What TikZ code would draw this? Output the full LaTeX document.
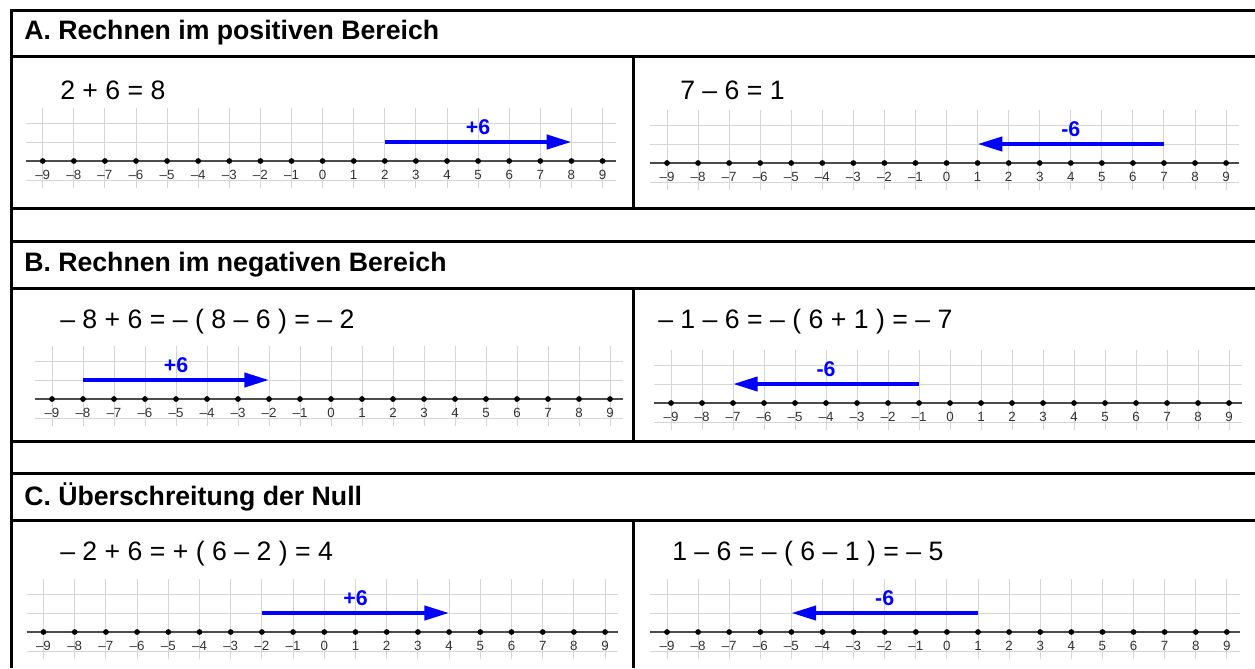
\documentclass[tikz,border=0pt]{standalone}
\usepackage{fontspec}
\setmainfont{Liberation Sans}
\usetikzlibrary{arrows.meta}

% number line: name, x of -9, step, y of axis
\newcommand{\zahlenstrahl}[4]{%
  \foreach \k in {0,...,18}
    \draw[gitter] ({#2+\k*#3},{#4-53}) -- ({#2+\k*#3},{#4+27});
  \foreach \o in {-38,-19,19}
    \draw[gitter] ({#2-17},{#4+\o}) -- ({#2+18*#3+13},{#4+\o});
  \draw[achse] ({#2-17},#4) -- ({#2+18*#3+13},#4);
  \foreach \t [count=\k from 0] in {–9,–8,–7,–6,–5,–4,–3,–2,–1,0,1,2,3,4,5,6,7,8,9} {
    \node[punkt] (#1-\k) at ({#2+\k*#3},#4) {};
    \node[zahl] (#1-t\k) at ({#2+\k*#3},{#4+13.5}) {\t};
    \coordinate (#1-o\k) at ({#2+\k*#3},{#4-19});
  }%
}

\begin{document}
\begin{tikzpicture}[x=0.75pt, y=-0.75pt,
    rahmen/.style={line width=2.25pt, black},
    gitter/.style={line width=0.75pt, black!16},
    achse/.style={line width=1.5pt, black!70},
    punkt/.style={circle, fill=black, inner sep=0pt, minimum size=4.3pt},
    zahl/.style={font=\fontsize{10}{11}\selectfont, inner sep=0pt, text=black!80},
    kopf/.style={anchor=west, font=\fontsize{20}{24}\selectfont\bfseries, inner sep=0pt},
    gleichung/.style={anchor=west, font=\fontsize{20}{24}\selectfont, inner sep=0pt},
    pfeil/.style={-{Triangle[length=18.5pt,width=10.5pt]}, line width=3pt, blue},
    schritt/.style={font=\fontsize{16}{18}\selectfont\bfseries, text=blue, inner sep=0pt, yshift=11pt},
]
\useasboundingbox (0,0) rectangle (1255,668);

% table
\foreach \y in {10,56,208,241,288,441,473,520}
  \draw[rahmen] (11,\y) -- (1255,\y);
\draw[rahmen] (11,9) -- (11,668);
\draw[rahmen] (633,56) -- (633,208);
\draw[rahmen] (633,288) -- (633,441);
\draw[rahmen] (633,520) -- (633,668);

\node[kopf] (kA) at (24,33) {A. Rechnen im positiven Bereich};
\node[kopf] (kB) at (24,264.5) {B. Rechnen im negativen Bereich};
\node[kopf] (kC) at (24,496.5) {C. Überschreitung der Null};

\node[gleichung] (gAL) at (60,90) {2 + 6 = 8};
\node[gleichung] (gAR) at (680,90) {7 – 6 = 1};
\node[gleichung] (gBL) at (60,322) {– 8 + 6 = – ( 8 – 6 ) = – 2};
\node[gleichung] (gBR) at (658,322) {– 1 – 6 = – ( 6 + 1 ) = – 7};
\node[gleichung] (gCL) at (60,554) {– 2 + 6 = + ( 6 – 2 ) = 4};
\node[gleichung] (gCR) at (672,554) {1 – 6 = – ( 6 – 1 ) = – 5};

% number lines
\zahlenstrahl{AL}{42.7}{31.1}{161}
\zahlenstrahl{AR}{667}{31.06}{163}
\zahlenstrahl{BL}{52}{31}{399}
\zahlenstrahl{BR}{671}{31}{403}
\zahlenstrahl{CL}{43.5}{31.2}{632}
\zahlenstrahl{CR}{667}{31.1}{632}

\draw[pfeil] (AL-o11) -- (AL-o17) node[schritt, midway] (sAL) {+6};
\draw[pfeil] (AR-o16) -- (AR-o10) node[schritt, midway] (sAR) {-6};
\draw[pfeil] (BL-o1) -- (BL-o7) node[schritt, midway] (sBL) {+6};
\draw[pfeil] (BR-o8) -- (BR-o2) node[schritt, midway] (sBR) {-6};
\draw[pfeil] (CL-o7) -- (CL-o13) node[schritt, midway] (sCL) {+6};
\draw[pfeil] (CR-o10) -- (CR-o4) node[schritt, midway] (sCR) {-6};
\end{tikzpicture}
\end{document}
